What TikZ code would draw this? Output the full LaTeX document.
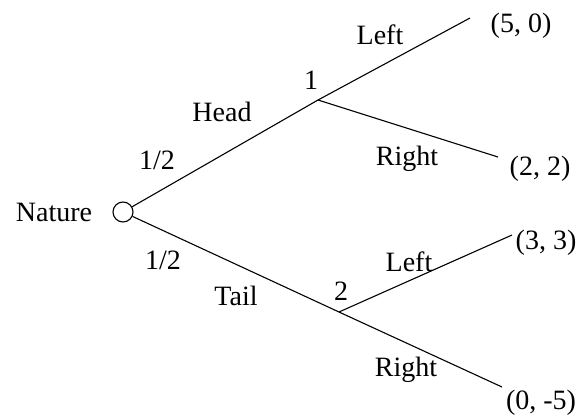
\documentclass[tikz,border=0pt]{standalone}
\usepackage{fontspec}
\setmainfont{Liberation Serif}
\begin{document}
\begin{tikzpicture}[x=1pt,y=-1pt,
  edge/.style={line width=1.1pt},
  lbl/.style={anchor=base,inner sep=0pt,font=\fontsize{28}{32}\selectfont}]
\useasboundingbox (0,0) rectangle (582,416);
\node[draw,circle,line width=1.1pt,minimum size=20pt,inner sep=0pt] (nature) at (123,212) {};
\coordinate (n1) at (318,100);
\coordinate (n2) at (339,312);
\coordinate (e1) at (470,18);
\coordinate (e2) at (498,157);
\coordinate (e3) at (512,235);
\coordinate (e4) at (502,387);
\draw[edge] (nature) -- (n1);
\draw[edge] (nature) -- (n2);
\draw[edge] (n1) -- (e1);
\draw[edge] (n1) -- (e2);
\draw[edge] (n2) -- (e3);
\draw[edge] (n2) -- (e4);
\node[lbl] (tnature) at (54,221) {Nature};
\node[lbl] (t50) at (521,32) {(5, 0)};
\node[lbl] (tleft1) at (380,44) {Left};
\node[lbl] (tone) at (311,89) {1};
\node[lbl] (thead) at (222,121) {Head};
\node[lbl] (thalf1) at (157,169) {1/2};
\node[lbl] (tright1) at (407,165) {Right};
\node[lbl] (t22) at (540,175) {(2, 2)};
\node[lbl] (thalf2) at (163,269) {1/2};
\node[lbl] (ttail) at (236,305) {Tail};
\node[lbl] (ttwo) at (341,300) {2};
\node[lbl] (tleft2) at (409,271) {Left};
\node[lbl] (t33) at (546,249) {(3, 3)};
\node[lbl] (tright2) at (406,376) {Right};
\node[lbl] (t05) at (541,409) {(0, -5)};
\end{tikzpicture}
\end{document}
